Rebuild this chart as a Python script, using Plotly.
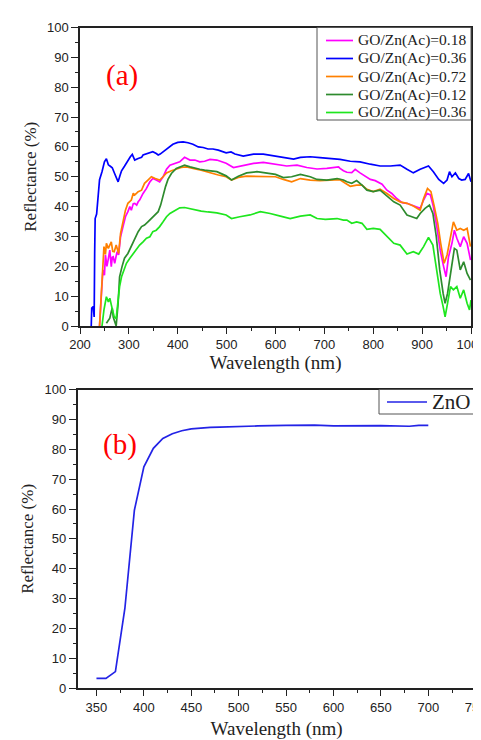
import plotly.graph_objects as go

# ---------------- Panel (a) data ----------------
wl_blue = [223, 224, 227, 229, 230, 231, 234, 237, 240, 245, 250, 254, 258, 262, 266, 271, 275, 278, 282, 285,
           291, 298, 303, 307, 312, 319, 326, 329, 339, 349, 356, 360, 364, 370, 380, 390, 400, 411, 421, 431,
           442, 452, 462, 472, 483, 499, 509, 517, 534, 545, 555, 575, 600, 616, 637, 651, 671, 691, 712, 732,
           753, 773, 794, 814, 835, 855, 869, 882, 896, 913, 923, 934, 944, 951, 956, 961, 968, 975, 981, 988,
           995, 1000]
r_blue = [0, 6, 6.5, 3, 24, 36, 37.5, 44, 49, 51.7, 55, 56, 54, 53.5, 53, 51, 49.5, 48.3, 50.5, 52,
          53.5, 55.6, 56.7, 57.5, 55.6, 56.1, 56.5, 57.3, 57.8, 58.4, 57.8, 57.3, 57.6, 58.4, 59.5, 60.9, 61.5, 61.7, 61.4, 60.9,
          60.0, 59.8, 59.3, 59.3, 58.9, 58.0, 58.3, 57.6, 56.9, 57.3, 57.6, 57.6, 56.9, 56.5, 55.9, 56.5, 56.7, 56.4, 56.1, 55.8,
          55.2, 55.0, 54.2, 53.6, 53.6, 53.9, 52.5, 51.3, 52.5, 53.6, 51.7, 49.1, 47.8, 48.9, 51.7, 50.0, 51.3, 49.4, 48.9, 49.1,
          51.1, 48.3]

wl_mag = [240, 242, 245, 247, 250, 252, 255, 258, 261, 264, 266, 268, 271, 274, 276, 279, 283, 288, 293, 298,
          302, 305, 309, 312, 316, 319, 322, 329, 336, 343, 349, 356, 363, 370, 377, 384, 394, 404, 414, 425,
          435, 445, 455, 466, 480, 499, 514, 534, 555, 575, 600, 623, 644, 664, 685, 705, 729, 732, 739, 746,
          756, 763, 773, 784, 794, 804, 818, 828, 838, 848, 859, 869, 879, 889, 896, 903, 910, 917, 923, 930,
          937, 944, 949, 954, 961, 966, 971, 978, 985, 992, 999]
r_mag = [0, 8, 14, 18.8, 17, 23.8, 20, 22.5, 25.4, 19.9, 23, 23.2, 21.0, 23.5, 24.9, 23.8, 29.9, 33.3, 36.6, 38.3,
         40, 38.8, 41, 41.1, 40.5, 41.6, 42.2, 44.4, 46.1, 48.3, 49.4, 48.9, 48.3, 50.0, 52.5, 53.9, 54.5, 55.0, 56.5, 55.6,
         55.6, 55.0, 55.2, 55.8, 55.6, 54.5, 53.1, 53.9, 54.5, 54.8, 54.1, 53.6, 53.9, 53.1, 52.6, 52.8, 53.3, 52.8, 52.0, 51.5,
         51.4, 52.5, 51.3, 50.0, 49.1, 48.7, 47.5, 45.5, 44.4, 42.7, 41.3, 41.1, 40.5, 40.0, 39.4, 42.2, 44.4, 43.9, 40.0, 33.3,
         25.4, 19.9, 16.5, 23.2, 27.7, 32.1, 29.4, 26.6, 29.9, 27.7, 22.1]

wl_org = [240, 245, 249, 252, 254, 258, 261, 264, 267, 270, 274, 277, 279, 283, 288, 293, 298, 305, 309, 312,
          316, 319, 326, 332, 339, 346, 354, 363, 370, 377, 387, 397, 407, 418, 428, 438, 448, 462, 472, 483,
          499, 510, 524, 541, 562, 582, 600, 616, 633, 651, 671, 691, 712, 732, 743, 753, 766, 777, 787, 800,
          814, 828, 842, 855, 869, 882, 896, 903, 911, 918, 925, 932, 938, 945, 951, 958, 964, 971, 978, 985,
          992, 999]
r_org = [0, 15.4, 26.6, 24, 27.7, 26.0, 27, 28.2, 25, 24.9, 27.1, 25, 24.3, 31.0, 35.5, 38.8, 41.1, 42.2, 44.5, 43.9,
         44.5, 45.0, 45.5, 47.8, 48.9, 50.0, 49.4, 48.9, 50.0, 51.3, 52.0, 52.5, 53.1, 53.3, 52.8, 52.5, 52.2, 51.7, 51.1, 50.6,
         50.0, 48.9, 49.8, 50.2, 50.2, 50.2, 50.0, 49.1, 48.3, 49.4, 48.9, 48.7, 48.9, 49.0, 47.8, 46.8, 47.2, 47.2, 45.8, 45.0,
         45.8, 44.4, 42.7, 41.6, 41.1, 40.2, 38.8, 42.7, 46.1, 45.0, 40.0, 34.4, 27.7, 21.0, 23.8, 29.9, 34.9, 32.1, 32.7, 32.1,
         32.7, 26.6]

wl_dg = [254, 258, 261, 264, 266, 268, 270, 274, 278, 281, 286, 291, 298, 305, 312, 319, 326, 332, 339, 346,
         353, 360, 365, 370, 375, 380, 387, 397, 407, 414, 425, 435, 445, 455, 466, 480, 499, 510, 524, 541,
         562, 582, 600, 616, 633, 651, 671, 685, 705, 726, 739, 746, 756, 766, 777, 787, 800, 814, 828, 842,
         855, 869, 879, 889, 896, 906, 915, 922, 929, 936, 943, 947, 952, 959, 966, 971, 978, 985, 992, 999]
r_dg = [0.9, 2, 2.6, 4.8, 6, 3, 2.0, 0, 7.6, 16.5, 19.9, 22.7, 24.3, 26.6, 29.4, 31.6, 33.3, 33.8, 34.9, 36.0,
        37.2, 38.3, 40.5, 43.9, 46.7, 49.1, 51.1, 52.8, 53.3, 53.9, 53.3, 52.8, 52.5, 52.2, 52.0, 51.7, 50.3, 48.9, 50.2, 51.3,
        51.7, 51.3, 50.8, 49.7, 50.0, 50.8, 50.0, 49.1, 48.9, 49.4, 48.9, 48.3, 47.8, 48.7, 47.2, 45.5, 45.0, 45.5, 43.5, 41.6,
        40.5, 37.2, 36.6, 36.0, 37.7, 39.4, 40.5, 37.7, 29.9, 18.8, 10.9, 7.6, 10.9, 18.8, 26.0, 25.4, 18.8, 21.5, 17.6, 15.4]

wl_lg = [245, 249, 254, 258, 261, 264, 267, 270, 274, 278, 281, 285, 290, 295, 302, 309, 315, 322, 329, 336,
         343, 349, 356, 363, 370, 377, 384, 394, 404, 414, 425, 435, 448, 462, 480, 499, 510, 527, 548, 569,
         589, 610, 630, 651, 671, 685, 702, 726, 739, 746, 756, 766, 777, 787, 800, 814, 828, 842, 855, 869,
         882, 893, 903, 913, 922, 930, 937, 943, 947, 952, 958, 964, 971, 978, 985, 992, 997, 1000]
r_lg = [0, 5.4, 9.8, 8.1, 9.3, 6.5, 5, 3.1, 2.5, 8.7, 13.2, 16.5, 18.8, 21.0, 22.7, 24.3, 25.4, 27.1, 28.2, 29.4,
        29.9, 31.6, 32.1, 33.3, 34.9, 36.6, 37.7, 38.8, 39.6, 39.7, 39.3, 38.8, 38.5, 38.2, 37.9, 37.2, 36.0, 36.6, 37.2, 38.3,
        37.7, 36.8, 36.0, 36.8, 37.2, 36.0, 35.7, 36.0, 35.5, 35.5, 34.4, 34.9, 34.4, 32.4, 32.7, 32.4, 29.9, 27.7, 27.1, 24.1,
        24.9, 24.1, 26.6, 29.7, 27.1, 18.8, 10.9, 6.5, 3.1, 7.6, 13.2, 12.1, 13.2, 9.3, 12.1, 7.6, 5.4, 8.7]

# ---------------- Panel (b) data ----------------
wl_zno = [350, 360, 370, 380, 390, 400, 410, 420, 430, 440, 450, 460, 470, 480, 500, 520, 550, 580, 600, 650, 680, 690, 700]
r_zno = [3.3, 3.3, 5.6, 26.8, 59.6, 74.1, 80.3, 83.6, 85.2, 86.2, 86.8, 87.1, 87.3, 87.4, 87.7, 87.8, 88.0, 88.1, 87.8, 87.9, 87.7, 88.0, 88.0]

series_names = ["GO/Zn(Ac)=0.18", "GO/Zn(Ac)=0.36", "GO/Zn(Ac)=0.72", "GO/Zn(Ac)=0.12", "GO/Zn(Ac)=0.36"]
series_x = [wl_mag, wl_blue, wl_org, wl_dg, wl_lg]
series_y = [r_mag, r_blue, r_org, r_dg, r_lg]
series_colors = ["#FF00FF", "#0000FF", "#FF8000", "#2E8B2E", "#1EE61E"]
zno_name = "ZnO"
zno_color = "#2323E6"

# The page body has an 8 px margin, so the figure is sized to fill the
# 481x740 window exactly and page-pixel positions are converted here.
OFF = 8
W, H = 481 - OFF, 740 - OFF


def px(x):
    return (x - OFF) / W


def py(y):
    return 1 - (y - OFF) / H


SERIF = "Liberation Serif, Times New Roman, serif"
LW = 1.7
fig = go.Figure()
for name, x, y, c in zip(series_names, series_x, series_y, series_colors):
    fig.add_trace(go.Scatter(x=x, y=y, mode="lines", name=name, line=dict(color=c, width=LW),
                             xaxis="x", yaxis="y", showlegend=False))
fig.add_trace(go.Scatter(x=wl_zno, y=r_zno, mode="lines", name=zno_name, line=dict(color=zno_color, width=LW),
                         xaxis="x2", yaxis="y2", showlegend=False))

tickfont = dict(family="Liberation Sans, Arial", size=13, color="#222")
titlefont_x = dict(family=SERIF, size=19, color="#222")
titlefont_y = dict(family=SERIF, size=17, color="#222")


def xax(domain, rng, dtick, mdtick, anchor, standoff):
    return dict(domain=domain, range=rng, dtick=dtick, tick0=0, anchor=anchor, automargin=False,
                showline=True, linecolor="#222", linewidth=1.5, mirror=True,
                ticks="outside", ticklen=6, tickwidth=1.2, tickcolor="#222", ticklabeloverflow="allow",
                minor=dict(ticks="outside", ticklen=3, dtick=mdtick, tickcolor="#222", tickwidth=1),
                showgrid=False, zeroline=False, tickfont=tickfont,
                title=dict(text="Wavelength (nm)", font=titlefont_x, standoff=standoff))


def yax(domain, anchor):
    return dict(domain=domain, range=[0, 100], dtick=10, anchor=anchor, automargin=False,
                showline=True, linecolor="#222", linewidth=1.5, mirror=True,
                ticks="outside", ticklen=7, tickwidth=1.2, tickcolor="#222",
                minor=dict(ticks="outside", ticklen=3, dtick=5, tickcolor="#222", tickwidth=1),
                showgrid=False, zeroline=False, tickfont=tickfont,
                title=dict(text="Reflectance (%)", font=titlefont_y, standoff=6))


shapes = []
annotations = []


def add_legend(box, rows, names, colors, sw, text_x, size):
    left, right, top, bottom = box
    shapes.append(dict(type="rect", xref="paper", yref="paper",
                       x0=px(left), x1=px(right), y0=py(bottom), y1=py(top),
                       line=dict(color="#555", width=1), fillcolor="white", layer="above"))
    for ry, name, c in zip(rows, names, colors):
        shapes.append(dict(type="line", xref="paper", yref="paper", x0=px(sw[0]), x1=px(sw[1]),
                           y0=py(ry), y1=py(ry), line=dict(color=c, width=LW), layer="above"))
        annotations.append(dict(text=name, x=px(text_x), y=py(ry), xref="paper", yref="paper",
                                xanchor="left", yanchor="middle", showarrow=False,
                                font=dict(family=SERIF, size=size, color="#222")))


# legend of panel (a)
add_legend((317, 471, 27.5, 120), [40.5, 58.5, 76.5, 94.5, 112.5], series_names, series_colors,
           (326, 353), 356, 15.5)
# legend of panel (b)
add_legend((379, 475.7, 389.5, 414), [402], [zno_name], [zno_color], (387, 427), 429.5, 21)

annotations += [
    dict(text="(a)", x=px(121.5), y=py(75.5), xref="paper", yref="paper", showarrow=False,
         xanchor="center", yanchor="middle", font=dict(family=SERIF, size=29, color="#FF0000")),
    dict(text="(b)", x=px(119.5), y=py(444), xref="paper", yref="paper", showarrow=False,
         xanchor="center", yanchor="middle", font=dict(family=SERIF, size=29, color="#FF0000")),
]

fig.update_layout(
    width=W, height=H, autosize=False,
    margin=dict(l=0, r=0, t=0, b=0, pad=0),
    paper_bgcolor="white", plot_bgcolor="white",
    showlegend=False,
    xaxis=xax([px(80), px(471)], [200, 1000], 100, 50, "y", 4),
    yaxis=yax([py(326), py(27.5)], "x"),
    xaxis2=xax([px(77.5), px(475.7)], [330, 750], 50, 25, "y2", 8),
    yaxis2=yax([py(688.3), py(389.5)], "x2"),
    shapes=shapes,
    annotations=annotations,
)

fig.write_html("out.html")
